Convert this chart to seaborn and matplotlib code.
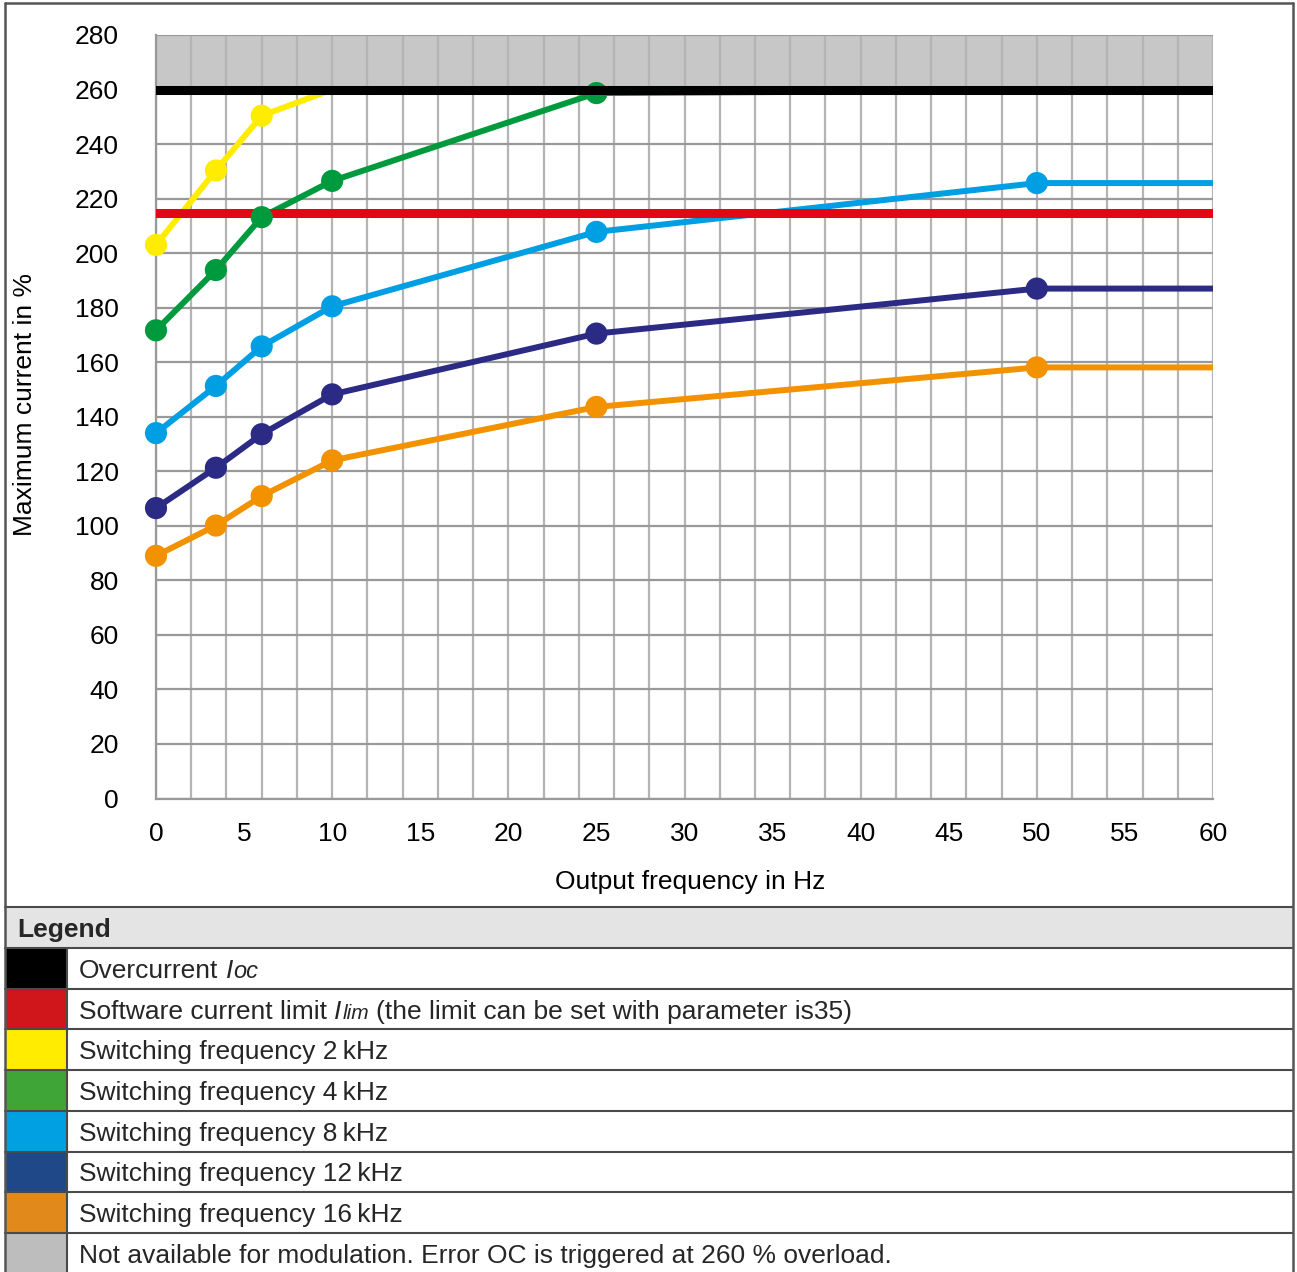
import matplotlib
matplotlib.use("Agg")
import matplotlib.pyplot as plt
import matplotlib.ticker as mticker
from matplotlib.patches import Rectangle
import numpy as np
import pandas as pd
import seaborn as sns

# ---------------- data ----------------
series_names = ["2 kHz", "4 kHz", "8 kHz", "12 kHz", "16 kHz"]

freq_2k = [0, 3.4, 6, 10, 60]
cur_2k = [203, 230.3, 250.4, 260, 260]
marked_2k = 3

freq_4k = [0, 3.4, 6, 10, 25, 60]
cur_4k = [171.7, 193.8, 213.2, 226.5, 258.7, 260]
marked_4k = 5

freq_8k = [0, 3.4, 6, 10, 25, 50, 60]
cur_8k = [134, 151.3, 165.8, 180.5, 207.8, 225.7, 225.7]
marked_8k = 6

freq_12k = [0, 3.4, 6, 10, 25, 50, 60]
cur_12k = [106.5, 121.3, 133.6, 148.2, 170.5, 187, 187]
marked_12k = 6

freq_16k = [0, 3.4, 6, 10, 25, 50, 60]
cur_16k = [89, 100.1, 110.9, 124, 143.6, 158.1, 158.1]
marked_16k = 6

overcurrent = 260
software_limit = 214.6
not_available = (260, 280)

x_ticks = [0, 5, 10, 15, 20, 25, 30, 35, 40, 45, 50, 55, 60]
y_ticks = [0, 20, 40, 60, 80, 100, 120, 140, 160, 180, 200, 220, 240, 260, 280]

legend_labels = [
    "Overcurrent",
    "Software current limit",
    "Switching frequency 2\u2009kHz",
    "Switching frequency 4\u2009kHz",
    "Switching frequency 8\u2009kHz",
    "Switching frequency 12\u2009kHz",
    "Switching frequency 16\u2009kHz",
    "Not available for modulation. Error OC is triggered at 260 % overload.",
]

line_colors = {"2 kHz": "#ffec00", "4 kHz": "#009a3e", "8 kHz": "#009fe3",
               "12 kHz": "#2b2a84", "16 kHz": "#f39200"}
legend_colors = ["#000000", "#d0151b", "#ffec00", "#3ea536", "#00a0e3",
                 "#1f4888", "#e2891c", "#bdbdbd"]

# ---------------- build frames ----------------
all_f = [freq_2k, freq_4k, freq_8k, freq_12k, freq_16k]
all_c = [cur_2k, cur_4k, cur_8k, cur_12k, cur_16k]
all_m = [marked_2k, marked_4k, marked_8k, marked_12k, marked_16k]
rows, mrows = [], []
for name, fs, cs, m in zip(series_names, all_f, all_c, all_m):
    for i, (f, c) in enumerate(zip(fs, cs)):
        rows.append({"freq": f, "current": c, "series": name, "order": i})
        if i < m:
            mrows.append({"freq": f, "current": c, "series": name})
df = pd.DataFrame(rows)
dfm = pd.DataFrame(mrows)

# ---------------- style ----------------
sns.set_style("white")
plt.rcParams["font.family"] = ["Liberation Sans", "DejaVu Sans"]

W, H = 1297, 1272
fig = plt.figure(figsize=(W / 100, H / 100), dpi=100)
fig.patch.set_facecolor("white")

x0, x1, y0, y1 = 156, 1213, 798.5, 35
ax = fig.add_axes([x0 / W, 1 - y0 / H, (x1 - x0) / W, (y0 - y1) / H])
ax.set_facecolor("white")

ax.axhspan(not_available[0], not_available[1], color="#c6c7c6", zorder=0.3, lw=0)

sns.lineplot(data=df, x="freq", y="current", hue="series", palette=line_colors,
             hue_order=series_names, sort=False, estimator=None, units="series",
             linewidth=4.3, legend=False, ax=ax, zorder=2,
             solid_capstyle="butt")
ax.axhline(software_limit, color="#e30613", lw=6.5, zorder=3)
sns.scatterplot(data=dfm, x="freq", y="current", hue="series", palette=line_colors,
                hue_order=series_names, s=255, linewidth=0, legend=False, ax=ax,
                zorder=4, clip_on=False)
ax.axhline(overcurrent, color="#000000", lw=6.5, zorder=5)

ax.set_xlim(0, 60)
ax.set_ylim(0, 280)
ax.set_xticks(x_ticks)
ax.set_xticklabels([str(t) for t in x_ticks])
ax.xaxis.set_minor_locator(mticker.MultipleLocator(2))
ax.xaxis.remove_overlapping_locs = False
ax.set_yticks(y_ticks)
ax.set_yticklabels([str(t) for t in y_ticks])

ax.set_axisbelow(True)
ax.grid(False)
ax.grid(which="minor", axis="x", color="#b4b4b4", lw=1.6, zorder=0.5)
ax.grid(which="major", axis="y", color="#999999", lw=1.6, zorder=0.5)

for s in ["top", "right"]:
    ax.spines[s].set_visible(False)
for s in ["left", "bottom"]:
    ax.spines[s].set_color("#999999")
    ax.spines[s].set_linewidth(1.6)

ax.tick_params(axis="x", which="both", direction="out", length=5.2, width=1.5,
               color="#999999", labelsize=19, pad=11.5, labelcolor="black")
ax.tick_params(axis="y", which="both", direction="out", length=5.8, width=1.5,
               color="#999999", labelsize=19, pad=21, labelcolor="black")

ax.set_xlabel("Output frequency in Hz", fontsize=19, color="black")
ax.set_ylabel("Maximum current in %", fontsize=19, color="black")
ax.xaxis.set_label_coords((690 - x0) / (x1 - x0), (y0 - 882) / (y0 - y1))
ax.xaxis.label.set_va("center")
ax.yaxis.set_label_coords((25 - x0) / (x1 - x0), (y0 - 405) / (y0 - y1))
ax.yaxis.label.set_va("center")

# ---------------- legend table ----------------
lx = fig.add_axes([0, 0, 1, 1])
lx.set_xlim(0, W)
lx.set_ylim(H, 0)
lx.axis("off")
lx.patch.set_alpha(0)

edge = "#4a4a4a"
L, R = 5, 1293
head_top, head_bot = 907, 948
row_h = 40.7
lx.add_patch(Rectangle((L, head_top), R - L, head_bot - head_top,
                       facecolor="#e4e4e4", edgecolor="none", zorder=1))
lx.text(17, (head_top + head_bot) / 2 + 2, "Legend", fontsize=19, fontweight="bold",
        va="center", ha="left", zorder=3)
for i, col in enumerate(legend_colors):
    top = head_bot + i * row_h
    lx.add_patch(Rectangle((L, top), 67 - L, row_h, facecolor=col,
                           edgecolor="none", zorder=1))
lines_y = [head_top, head_bot] + [head_bot + i * row_h for i in range(1, 8)]
for yy in lines_y:
    lx.plot([L, R], [yy, yy], color=edge, lw=1.5, zorder=2)
lx.plot([67, 67], [head_bot, H], color=edge, lw=1.5, zorder=2)
# outer border
lx.plot([L, L], [3, H], color="#555555", lw=1.8, zorder=2)
lx.plot([R, R], [3, H], color="#555555", lw=1.8, zorder=2)
lx.plot([L, R], [3, 3], color="#555555", lw=1.8, zorder=2)

fig.canvas.draw()
renderer = fig.canvas.get_renderer()
inv = lx.transData.inverted()


def draw_pieces(y_base, pieces):
    x = 79.0
    for txt, style, size, gap in pieces:
        x += gap
        t = lx.text(x, y_base, txt, fontsize=size, fontstyle=style,
                    ha="left", va="baseline", zorder=3,
                    family=["Liberation Sans", "DejaVu Sans"])
        bb = t.get_window_extent(renderer)
        p0 = inv.transform((bb.x0, bb.y0))
        p1 = inv.transform((bb.x1, bb.y0))
        x = x + (p1[0] - p0[0])


sp = 7.3
for i, lab in enumerate(legend_labels):
    yb = head_bot + i * row_h + row_h / 2 + 9.6
    if i == 0:
        draw_pieces(yb, [(lab, "normal", 19, 0), ("I", "italic", 19, sp),
                         ("oc", "italic", 17, 0.5)])
    elif i == 1:
        draw_pieces(yb, [(lab, "normal", 19, 0), ("I", "italic", 19, sp),
                         ("lim", "italic", 15, 0.5),
                         ("(the limit can be set with parameter is35)", "normal", 19, sp)])
    else:
        draw_pieces(yb, [(lab, "normal", 19, 0)])

fig.savefig("out.png", dpi=100, facecolor="white")
